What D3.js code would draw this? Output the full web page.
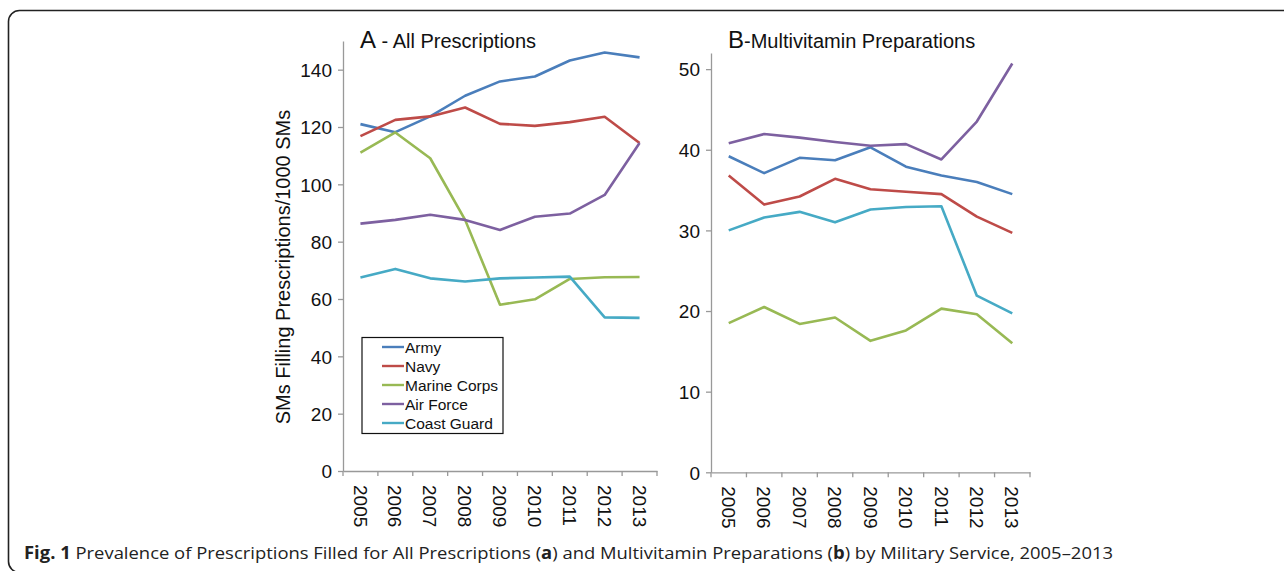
<!DOCTYPE html>
<html><head><meta charset="utf-8">
<script src="https://cdn.jsdelivr.net/npm/d3@7"></script>
<style>body{margin:0;background:#fff;}svg{display:block;font-family:"Liberation Sans",Arial,sans-serif;}</style>
</head><body><svg id="c" width="1284" height="571"></svg>
<script>
const years = ["2005","2006","2007","2008","2009","2010","2011","2012","2013"];
const services = ["Army","Navy","Marine Corps","Air Force","Coast Guard"];
const colors = ["#4a7ebb","#be4b48","#98b954","#7d60a0","#46aac5"];
// Panel A - All Prescriptions (SMs per 1000)
const allArmy   = [121.0,118.2,123.7,130.9,135.9,137.6,143.2,146.0,144.3];
const allNavy   = [116.8,122.5,123.7,126.8,121.1,120.4,121.7,123.6,114.4];
const allMarine = [111.1,118.1,109.1,87.6,58.0,59.9,67.0,67.6,67.7];
const allAirF   = [86.3,87.6,89.4,87.6,84.1,88.7,89.8,96.3,114.4];
const allCoast  = [67.5,70.5,67.2,66.1,67.2,67.5,67.8,53.6,53.4];
// Panel B - Multivitamin Preparations
const mvArmy   = [39.2,37.1,39.0,38.7,40.3,37.9,36.8,36.0,34.5];
const mvNavy   = [36.8,33.2,34.2,36.4,35.1,34.8,34.5,31.7,29.7];
const mvMarine = [18.5,20.5,18.4,19.2,16.3,17.6,20.3,19.6,16.0];
const mvAirF   = [40.8,41.95,41.5,40.96,40.5,40.7,38.8,43.5,50.7];
const mvCoast  = [30.0,31.6,32.3,31.0,32.6,32.9,33.0,21.9,19.7];
const ticksA = [0,20,40,60,80,100,120,140];
const ticksB = [0,10,20,30,40,50];

const svg = d3.select("#c");
// frame
svg.append("rect").attr("x",8.5).attr("y",10.5).attr("width",1320).attr("height",562)
  .attr("rx",11).attr("fill","none").attr("stroke","#222").attr("stroke-width",1.6);

function panel(cfg){
  const g = svg.append("g");
  const x = d3.scaleBand().domain(years).range([cfg.x0,cfg.x1]).padding(0);
  const y = d3.scaleLinear().domain([0,cfg.ymax]).range([cfg.y0,cfg.ytop]);
  const ya = g.append("g").attr("transform",`translate(${cfg.x0},0)`)
    .call(d3.axisLeft(y).tickValues(cfg.ticks).tickSize(5).tickPadding(6).tickSizeOuter(0));
  ya.select(".domain").attr("stroke","#999").attr("stroke-width",1.3);
  ya.selectAll(".tick line").attr("stroke","#999").attr("stroke-width",1.3);
  ya.selectAll(".tick text").attr("font-size",19).attr("fill","#111").attr("font-family","Liberation Sans, Arial, sans-serif").attr("dy","0.36em");
  const xa = g.append("g").attr("transform",`translate(0,${cfg.y0})`)
    .call(d3.axisBottom(x).tickSize(0).tickSizeOuter(0));
  xa.select(".domain").attr("stroke","#999").attr("stroke-width",1.3);
  xa.selectAll(".tick line").remove();
  const bounds = years.map(d=>x(d)).concat([cfg.x1]);
  g.selectAll(".bt").data(bounds).enter().append("line")
    .attr("x1",d=>d).attr("x2",d=>d).attr("y1",cfg.y0).attr("y2",cfg.y0+5)
    .attr("stroke","#999").attr("stroke-width",1.3);
  xa.selectAll(".tick text").attr("font-size",19).attr("fill","#111")
    .attr("font-family","Liberation Sans, Arial, sans-serif")
    .attr("transform","rotate(90)").attr("text-anchor","start")
    .attr("x",14).attr("y",0).attr("dy","0.36em");
  const line = d3.line().x((d,i)=>x(years[i])+x.bandwidth()/2).y(d=>y(d));
  cfg.series.forEach((s,i)=>{
    g.append("path").datum(s).attr("d",line).attr("fill","none")
      .attr("stroke",colors[i]).attr("stroke-width",2.6).attr("stroke-linejoin","round");
  });
  return {x,y,g};
}

panel({x0:343,x1:657,y0:471,ytop:41,ymax:150,ticks:ticksA,
  series:[allArmy,allNavy,allMarine,allAirF,allCoast]});
panel({x0:711,x1:1030,y0:472.3,ytop:53,ymax:52,ticks:ticksB,
  series:[mvArmy,mvNavy,mvMarine,mvAirF,mvCoast]});

const tA = svg.append("text").attr("x",360).attr("y",48).attr("fill","#111").attr("font-size",20);
tA.append("tspan").attr("font-size",24).text("A");
tA.append("tspan").text(" - All Prescriptions");
const tB = svg.append("text").attr("x",728).attr("y",48).attr("fill","#111").attr("font-size",20);
tB.append("tspan").attr("font-size",24).text("B");
tB.append("tspan").text("-Multivitamin Preparations");

svg.append("text").attr("transform","translate(290,267) rotate(-90)")
  .attr("text-anchor","middle").attr("font-size",20).attr("fill","#111")
  .text("SMs Filling Prescriptions/1000 SMs");

const lg = svg.append("g");
lg.append("rect").attr("x",362).attr("y",337.5).attr("width",141).attr("height",96)
  .attr("fill","#fff").attr("stroke","#111").attr("stroke-width",1.2);
services.forEach((s,i)=>{
  const yy = 347 + i*19;
  lg.append("line").attr("x1",382).attr("x2",404).attr("y1",yy).attr("y2",yy)
    .attr("stroke",colors[i]).attr("stroke-width",2.4);
  lg.append("text").attr("x",405).attr("y",yy).attr("dy","0.36em")
    .attr("font-size",15.5).attr("fill","#111").text(s);
});

const cap = svg.append("text").attr("x",24).attr("y",559).attr("font-size",17)
  .attr("fill","#222").attr("font-family","'Open Sans', 'Noto Sans', sans-serif")
  .attr("textLength",1089).attr("lengthAdjust","spacingAndGlyphs");
cap.append("tspan").attr("font-weight","bold").text("Fig. 1");
cap.append("tspan").text(" Prevalence of Prescriptions Filled for All Prescriptions (");
cap.append("tspan").attr("font-weight","bold").text("a");
cap.append("tspan").text(") and Multivitamin Preparations (");
cap.append("tspan").attr("font-weight","bold").text("b");
cap.append("tspan").text(") by Military Service, 2005\u20132013");
</script></body></html>
